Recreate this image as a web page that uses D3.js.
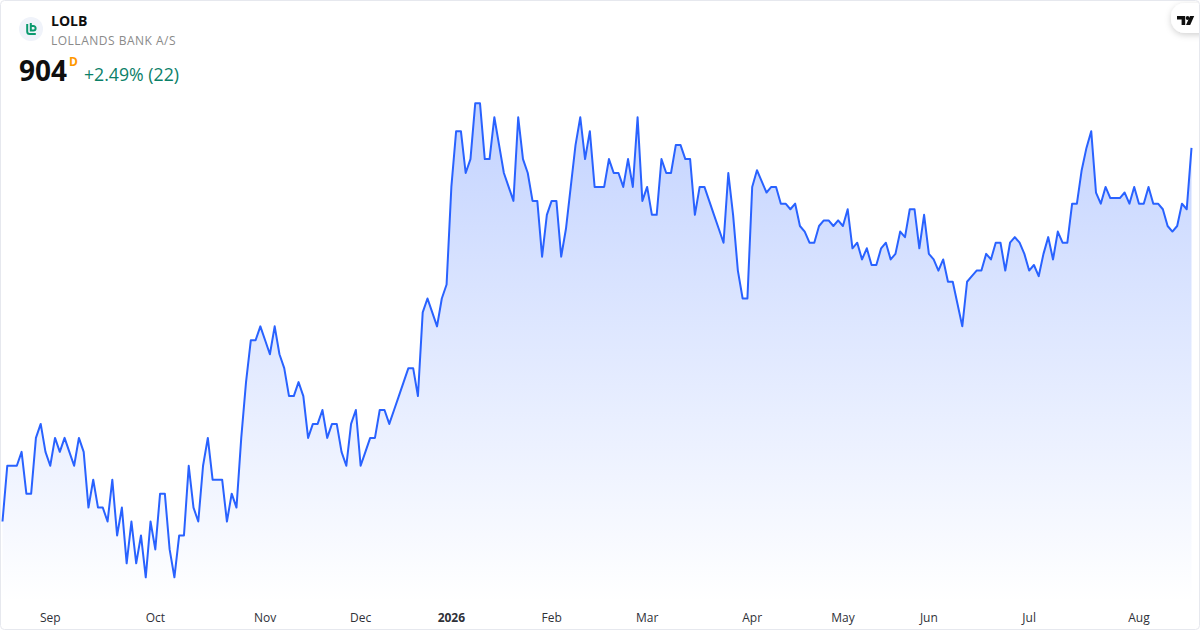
<!DOCTYPE html>
<html>
<head>
<meta charset="utf-8">
<script src="https://cdn.jsdelivr.net/npm/d3@7"></script>
<style>
html, body { margin: 0; padding: 0; background: #fff; }
svg { display: block; font-family: "Open Sans", sans-serif; }
</style>
</head>
<body>
<svg id="priceChart" width="1200" height="630"></svg>
<script>
var closes = [
    770, 790, 790, 790, 795, 780, 780, 800, 805, 795,
    790, 800, 795, 800, 795, 790, 800, 795, 775, 785,
    775, 775, 770, 785, 765, 775, 755, 770, 755, 765,
    750, 770, 760, 780, 780, 760, 750, 765, 765, 790,
    775, 770, 790, 800, 785, 785, 785, 770, 780, 775,
    800, 820, 835, 835, 840, 835, 830, 840, 830, 825,
    815, 815, 820, 815, 800, 805, 805, 810, 800, 805,
    805, 795, 790, 805, 810, 790, 795, 800, 800, 810,
    810, 805, 810, 815, 820, 825, 825, 815, 845, 850,
    845, 840, 850, 855, 890, 910, 910, 895, 900, 920,
    920, 900, 900, 915, 905, 895, 890, 885, 915, 900,
    895, 885, 885, 865, 880, 885, 885, 865, 875, 890,
    905, 915, 900, 910, 890, 890, 890, 900, 895, 895,
    890, 900, 890, 915, 885, 890, 880, 880, 900, 895,
    895, 905, 905, 900, 900, 880, 890, 890, 885, 880,
    875, 870, 895, 880, 860, 850, 850, 890, 896, 892,
    888, 890, 890, 884, 884, 882, 884, 876, 874, 870,
    870, 876, 878, 878, 876, 878, 876, 882, 868, 870,
    864, 868, 862, 862, 868, 870, 864, 866, 874, 872,
    882, 882, 868, 880, 866, 864, 860, 864, 856, 856,
    848, 840, 856, 858, 860, 860, 866, 864, 870, 870,
    860, 870, 872, 870, 866, 860, 862, 858, 866, 872,
    864, 874, 870, 870, 884, 884, 896, 904, 910, 888,
    884, 890, 886, 886, 886, 888, 884, 890, 884, 884,
    890, 884, 884, 882, 876, 874, 876, 884, 882, 904
];
var tickIndexes = [10, 32, 55, 75, 94, 115, 135, 157, 176, 194, 215, 238];
var tickLabels = ["Sep", "Oct", "Nov", "Dec", "2026", "Feb", "Mar", "Apr", "May", "Jun", "Jul", "Aug"];

var svg = d3.select("#priceChart");

var xScale = d3.scaleLinear().domain([0, closes.length - 1]).range([2.5, 1191.5]);
var yScale = d3.scaleLinear().domain([750, 920]).range([577.3, 103.3]);
var baseY = 602;

var defs = svg.append("defs");
var grad = defs.append("linearGradient")
    .attr("id", "areaFill")
    .attr("gradientUnits", "userSpaceOnUse")
    .attr("x1", 0).attr("x2", 0)
    .attr("y1", yScale(920)).attr("y2", baseY);
grad.append("stop").attr("offset", "0%").attr("stop-color", "#2962ff").attr("stop-opacity", 0.28);
grad.append("stop").attr("offset", "100%").attr("stop-color", "#2962ff").attr("stop-opacity", 0);

var shadow = defs.append("filter").attr("id", "pillShadow")
    .attr("x", "-30%").attr("y", "-40%").attr("width", "160%").attr("height", "200%");
shadow.append("feDropShadow")
    .attr("dx", 0).attr("dy", 2).attr("stdDeviation", 3)
    .attr("flood-color", "#000").attr("flood-opacity", 0.18);

var clip = defs.append("clipPath").attr("id", "cardClip");
clip.append("rect").attr("x", 1).attr("y", 1).attr("width", 1198).attr("height", 628).attr("rx", 4);

var area = d3.area()
    .x((d, i) => xScale(i))
    .y0(baseY)
    .y1(d => yScale(d));

var line = d3.line()
    .x((d, i) => xScale(i))
    .y(d => yScale(d));

svg.append("path")
    .datum(closes)
    .attr("d", area)
    .attr("fill", "url(#areaFill)");

svg.append("path")
    .datum(closes)
    .attr("d", line)
    .attr("fill", "none")
    .attr("stroke", "#2962ff")
    .attr("stroke-width", 2)
    .attr("stroke-linejoin", "round");

// month labels along the bottom
var xAxis = d3.axisBottom(xScale)
    .tickValues(tickIndexes)
    .tickFormat((d, i) => tickLabels[i])
    .tickSize(0)
    .tickPadding(0)
    .offset(0);

var axisG = svg.append("g")
    .attr("class", "x-axis")
    .attr("transform", "translate(0,613)")
    .call(xAxis);
axisG.select(".domain").remove();
axisG.selectAll("text")
    .attr("font-family", "'Open Sans', sans-serif")
    .attr("font-size", 12)
    .attr("fill", "#2f3138")
    .attr("font-weight", (d, i) => tickLabels[i] === "2026" ? 700 : 400);

// header
svg.append("circle").attr("cx", 31).attr("cy", 29).attr("r", 12).attr("fill", "#f0f3fa");
svg.append("path")
    .attr("d", "M27.2 24v7.5q0 2.6 2.6 2.6h6M30.8 23v7.4h2.6a2.2 2.2 0 0 0 0-4.4h-2.6")
    .attr("fill", "none")
    .attr("stroke", "#0c9a6f")
    .attr("stroke-width", 2);

svg.append("text").attr("x", 51).attr("y", 26)
    .attr("font-size", 14).attr("font-weight", 700).attr("fill", "#0f0f0f")
    .text("LOLB");
svg.append("text").attr("x", 51).attr("y", 45)
    .attr("font-size", 12).attr("letter-spacing", 0.5).attr("fill", "#8a8a8a")
    .text("LOLLANDS BANK A/S");
svg.append("text").attr("x", 19).attr("y", 81)
    .attr("font-size", 28).attr("font-weight", 700).attr("fill", "#0f0f0f")
    .text("904");
svg.append("text").attr("x", 69).attr("y", 66)
    .attr("font-size", 12).attr("font-weight", 700).attr("fill", "#ff9800")
    .text("D");
svg.append("text").attr("x", 84).attr("y", 81)
    .attr("font-size", 17.7).attr("fill", "#0b8068")
    .text("+2.49% (22)");

// logo pill top right
var pill = svg.append("g").attr("clip-path", "url(#cardClip)");
pill.append("rect")
    .attr("x", 1171).attr("y", 3).attr("width", 60).attr("height", 30).attr("rx", 14)
    .attr("fill", "#fff")
    .attr("filter", "url(#pillShadow)");
pill.append("path")
    .attr("d", "M1177 16h8.2v9h-3.6v-5.6h-4.6zM1194.2 16l-4 9h-4.2l4-9z")
    .attr("fill", "#0f0f0f");
pill.append("circle").attr("cx", 1187.6).attr("cy", 18).attr("r", 1.9).attr("fill", "#0f0f0f");

// card border on top of everything
svg.append("rect")
    .attr("x", 0.5).attr("y", 0.5).attr("width", 1199).attr("height", 629).attr("rx", 4)
    .attr("fill", "none")
    .attr("stroke", "#e6e8ee")
    .attr("stroke-width", 1);
</script>
</body>
</html>
